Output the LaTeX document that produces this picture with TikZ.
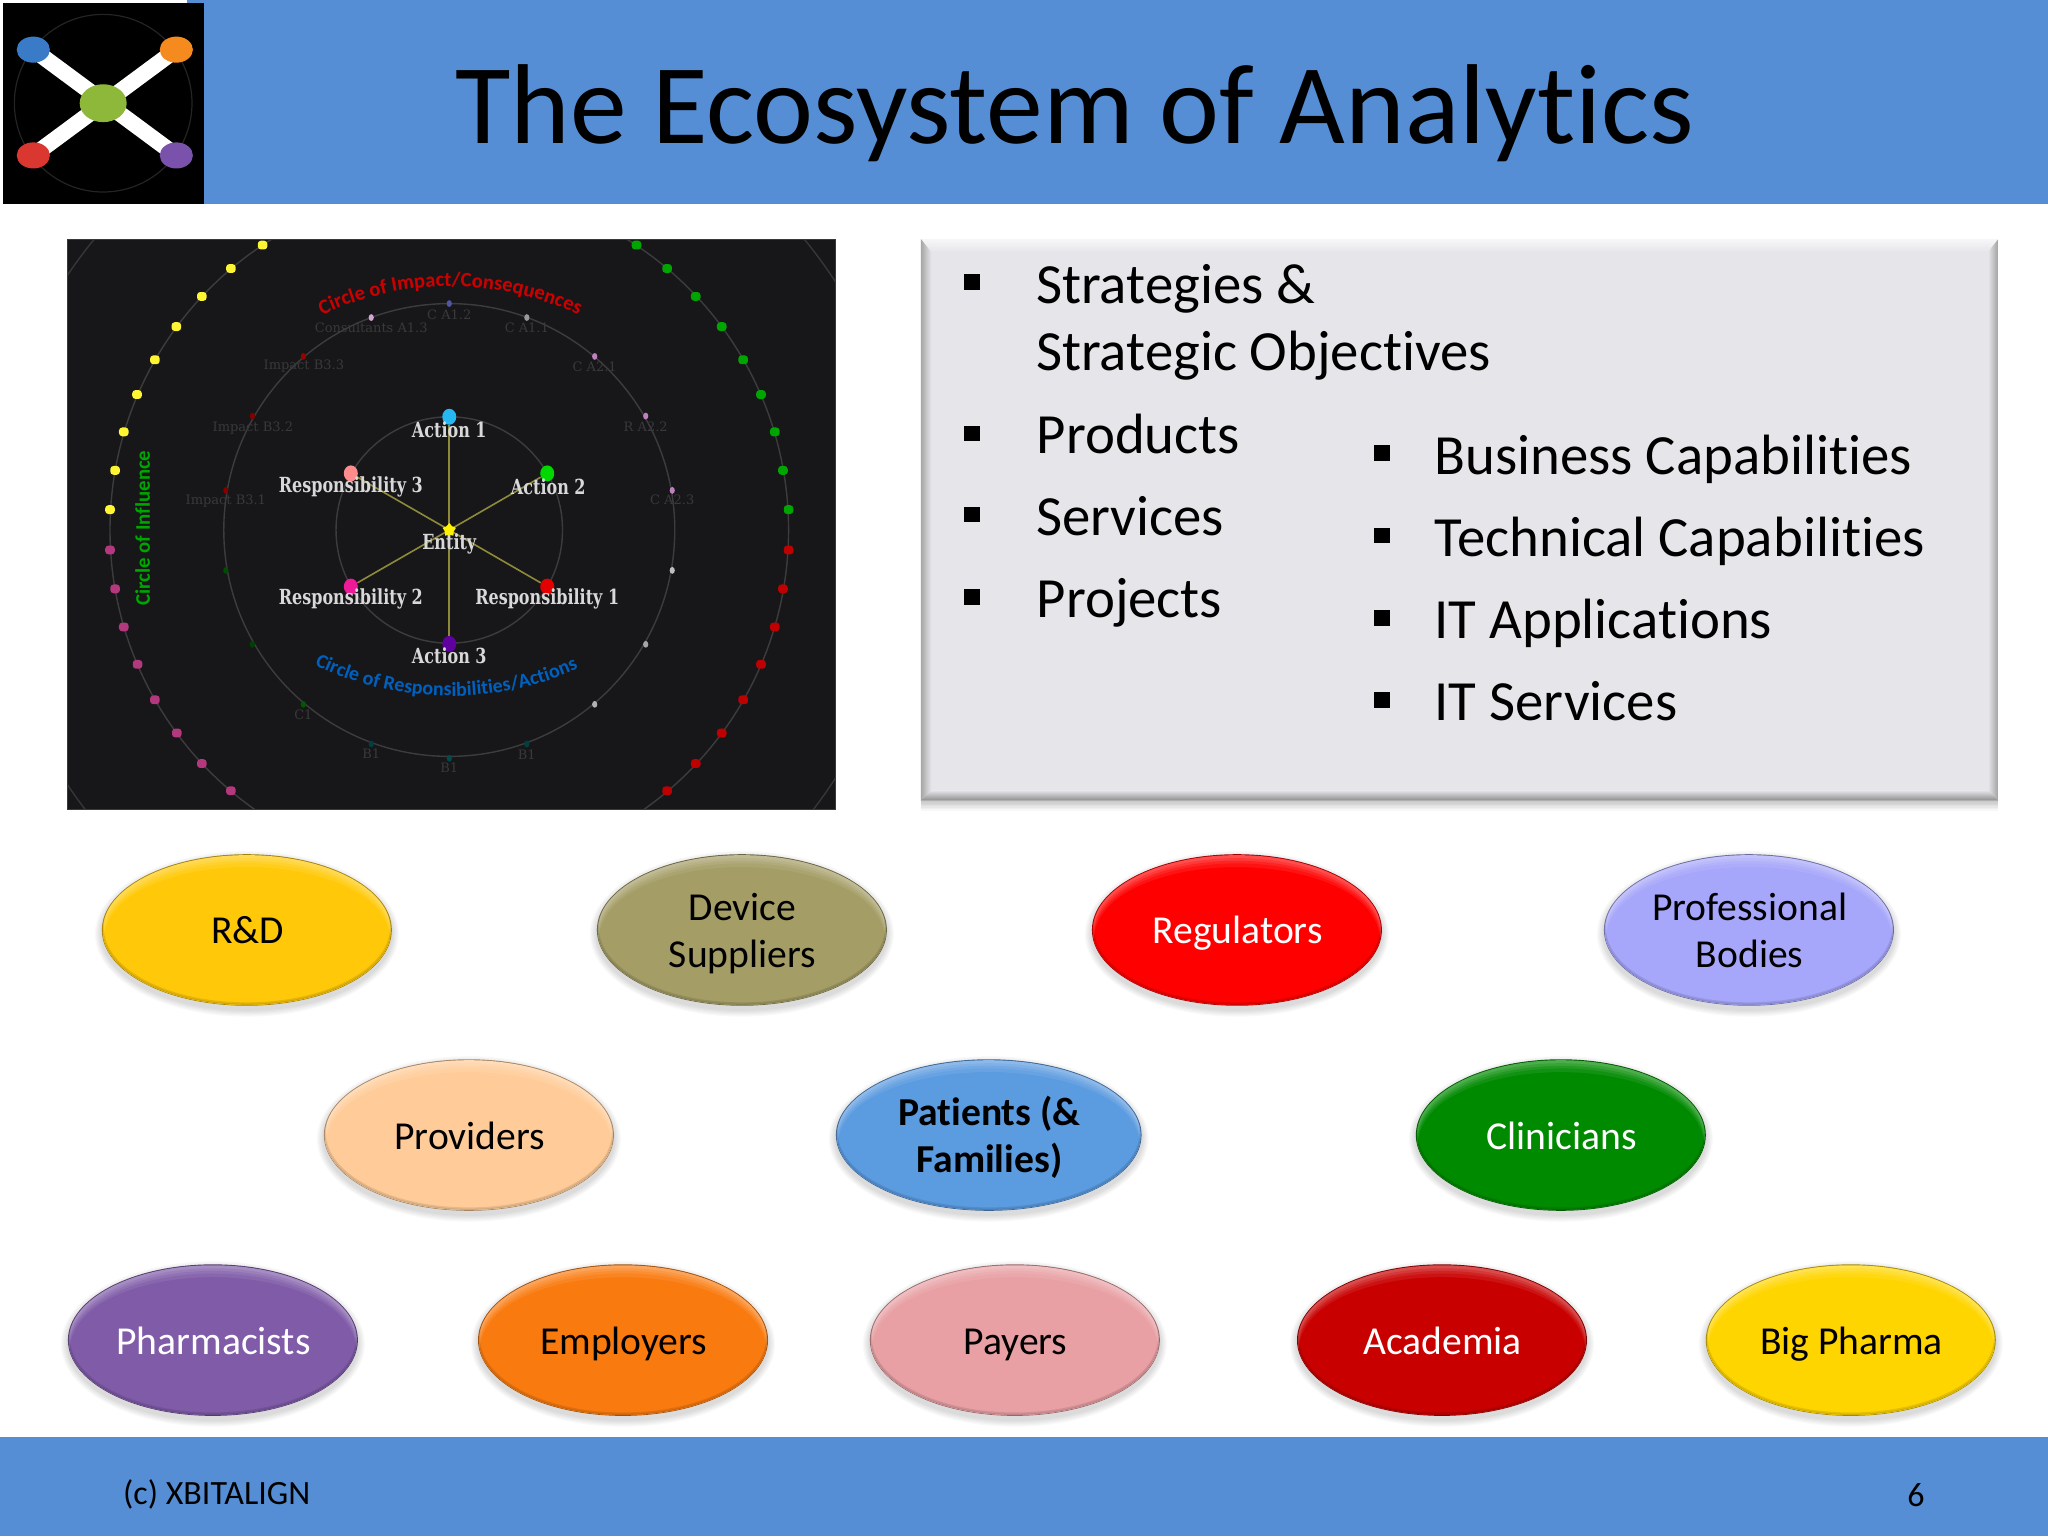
\documentclass[tikz,border=0pt]{standalone}
\usepackage{fontspec}
\setmainfont[Ligatures=NoCommon]{Carlito}
\newfontfamily\imgfont{DejaVu Serif}
\usetikzlibrary{shapes.geometric,decorations.text,calc}
\definecolor{barblue}{HTML}{558ED5}
\definecolor{panel}{HTML}{E6E5EA}
\definecolor{imgbg}{HTML}{17171A}
\definecolor{ringc}{HTML}{3C3C3E}
\definecolor{spokec}{HTML}{8F8A3A}
\definecolor{fainttxt}{HTML}{39393C}
\definecolor{labtxt}{HTML}{D8D8D8}
\tikzset{
 barfill/.style={fill=barblue,draw=none},
 titletext/.style={font=\fontsize{56.8}{66}\selectfont,text=black,anchor=base,inner sep=0},
 bodytext/.style={font=\fontsize{28.4}{33}\selectfont,text=black,anchor=base west,inner sep=0},
 foottext/.style={font=\fontsize{17}{20}\selectfont,text=black,inner sep=0},
 ovaltext/.style={font=\fontsize{19.8}{23.5}\selectfont,align=center,inner sep=0},
 imglabel/.style={font=\imgfont\fontsize{8}{9}\selectfont\bfseries,text=labtxt,inner sep=0},
 faintlabel/.style={font=\imgfont\fontsize{6.5}{8}\selectfont,text=fainttxt,inner sep=0},
 ring/.style={draw=ringc,line width=.7pt},
 spoke/.style={draw=spokec,line width=.8pt},
 squarebullet/.style={fill=black,draw=none,minimum size=7.8pt,inner sep=0,rectangle},
 bigdot/.style={ellipse,minimum width=7pt,minimum height=8pt,inner sep=0,fill=#1},
 smalldot/.style={rectangle,rounded corners=1.6pt,minimum width=4.8pt,minimum height=4.4pt,inner sep=0,fill=#1},
 tinydot/.style={ellipse,minimum width=2.6pt,minimum height=3.4pt,inner sep=0,fill=#1},
}
\newcommand{\tall}[1]{\scalebox{1}[1.3]{#1}}
\newcommand{\ovalshape}[9]{%
 \foreach \i in {1,...,6}{\fill[black,opacity=.022] ($(#2,#3)+(0,3)$) ellipse ({#4+\i*.9} and {#5+\i*.9});}
 \fill[#6!65!black] (#2,#3) ellipse (#4 and #5);
 \begin{scope}
  \clip (#2,#3) ellipse ({#4-.7} and {#5-.7});
  \fill[#6!70!white] (#2,#3) ellipse (#4 and #5);
  \fill[#6!78!white] ($(#2,#3)+(0,2)$) ellipse ({#4-1} and {#5-1});
  \fill[#6!86!white] ($(#2,#3)+(0,3.5)$) ellipse ({#4-1.2} and {#5-1.5});
  \fill[#6!93!white] ($(#2,#3)+(0,5)$) ellipse ({#4-1.4} and {#5-2});
  \fill[#6] ($(#2,#3)+(0,7)$) ellipse ({#4-1.6} and {#5-3});
  \fill[#6] ($(#2,#3)+(0,2)$) ellipse ({#4-4} and {#5-8});
  \fill[#6!60!black,opacity=.25,even odd rule] ($(#2,#3)+({-#4-2},{-#5-2})$) rectangle ($(#2,#3)+({#4+2},{#5+2})$) ($(#2,#3)+(0,-1)$) ellipse ({#4-.8} and {#5-.5});
  \fill[#6!60!black,opacity=.25,even odd rule] ($(#2,#3)+({-#4-2},{-#5-2})$) rectangle ($(#2,#3)+({#4+2},{#5+2})$) ($(#2,#3)+(0,-1.8)$) ellipse ({#4-1.5} and {#5-.8});
 \end{scope}
 \node[ovaltext,text=#7,#9] (#1) at ($(#2,#3)+(.5,3.5)$) {#8};
}
\definecolor{oA}{HTML}{FFC90A}\definecolor{oB}{HTML}{A49D66}\definecolor{oC}{HTML}{FF0000}
\definecolor{oD}{HTML}{A6A6FA}\definecolor{oE}{HTML}{FFCC99}\definecolor{oF}{HTML}{5B9BE0}
\definecolor{oG}{HTML}{008A00}\definecolor{oH}{HTML}{7F5BA8}\definecolor{oI}{HTML}{F97B10}
\definecolor{oJ}{HTML}{E8A0A4}\definecolor{oK}{HTML}{C80000}\definecolor{oL}{HTML}{FFD500}
\definecolor{lgG}{HTML}{8DB839}\definecolor{lgB}{HTML}{3A7BC8}\definecolor{lgO}{HTML}{F58A1F}
\definecolor{lgR}{HTML}{D9372F}\definecolor{lgP}{HTML}{7B52AB}
\begin{document}
\begin{tikzpicture}[x=0.65306pt,y=-0.65306pt]
\useasboundingbox (0,0) rectangle (1568,1176);
\fill[white] (0,0) rectangle (1568,1176);
% bars
\fill[barfill] (0,0) rectangle (1568,156);
\fill[barfill] (0,1100) rectangle (1568,1176);
\node[titletext] (title) at (823,110) {The Ecosystem of Analytics};
\node[foottext,anchor=west] (foot) at (94,1144) {(c) XBITALIGN};
\node[foottext] (pnum) at (1467,1145) {6};
% logo
\fill[white] (0,0) rectangle (143,2);
\fill[white] (0,0) rectangle (2,157);
\fill[black] (2,2) rectangle (156,156);
\draw[white!14!black,line width=.6pt] (79,79) circle (68);
\draw[white,line width=8pt] (25.5,38) -- (135,119);
\draw[white,line width=8pt] (135,38) -- (25.5,119);
\fill[lgG] (79,79) ellipse (18 and 14.5);
\fill[lgB] (25.5,38) ellipse (12.7 and 10);
\fill[lgO] (135,38) ellipse (12.7 and 10);
\fill[lgR] (25.5,119) ellipse (12.7 and 10);
\fill[lgP] (135,119) ellipse (12.7 and 10);
% image
\fill[imgbg] (52,183) rectangle (640,620);
\begin{scope}
\clip (52,183) rectangle (640,620);
\begin{scope}[shift={(45.94,176.09)},x=0.2551pt,y=-0.18868pt]
 \coordinate (ctr) at (763,795);
 \draw[ring,draw=ringc!85!imgbg] (ctr) ellipse (900 and 1215);
 \draw[ring] (ctr) ellipse (665 and 904);
 \draw[ring] (ctr) ellipse (442 and 600);
 \draw[ring] (ctr) ellipse (222 and 300);
 % outer dots
 \foreach \x/\y in {397/40,335/102,278/176,228/256,186/344,151/436,125/535,108/637,98/741}
   \node[smalldot=yellow!80!white] at (\x,\y) {};
 \foreach \x/\y in {98/848,108/951,125/1052,152/1151,186/1245,229/1333,278/1414,335/1486}
   \node[smalldot=magenta!70!black] at (\x,\y) {};
 \foreach \x/\y in {1130/40,1190/102,1246/176,1297/256,1339/344,1374/436,1401/535,1417/637,1428/741}
   \node[smalldot=green!65!black] at (\x,\y) {};
 \foreach \x/\y in {1428/848,1417/951,1401/1052,1374/1151,1339/1245,1297/1333,1246/1414,1190/1486}
   \node[smalldot=red!75!black] at (\x,\y) {};
 % middle dots
 \foreach \x/\y/\c in {763/195/blue!35!gray,610/232/violet!35!white,477/335/red!60!black,377/493/red!50!black,325/690/red!50!black,
   325/902/green!30!black,377/1098/green!25!black,477/1257/green!35!black,610/1362/teal!50!black,763/1400/teal!60!black,915/1362/teal!50!black,
   1048/1257/white!70!black,1148/1098/white!65!black,1200/902/white!75!black,1200/690/violet!50!white,1148/493/violet!50!white,1048/335/violet!50!white,915/232/white!60!black}
   \node[tinydot=\c] at (\x,\y) {};
 % faint labels
 \foreach \x/\y/\t in {763/225/C A1.2,610/258/Consultants A1.3,915/258/C A1.1,478/360/Impact B3.3,378/525/Impact B3.2,325/718/Impact B3.1,1048/362/C A2.1,1148/522/R A2.2,1200/715/C A2.3,477/1285/C1,610/1388/B1,763/1425/B1,915/1390/B1}
   \node[faintlabel] at (\x,\y) {\t};
 % central graph
 \node[bigdot=yellow,star,star points=5,minimum width=5pt,minimum height=5pt] (ent) at (763,795) {};
 \node[bigdot=cyan!85!white] (a1) at (763,495) {};
 \node[bigdot=green!85!black] (a2) at (955,645) {};
 \node[bigdot=violet!75!blue] (a3) at (763,1097) {};
 \node[bigdot=red!90!black] (r1) at (955,945) {};
 \node[bigdot=magenta!90!white] (r2) at (570,945) {};
 \node[bigdot=red!45!white] (r3) at (570,645) {};
 \foreach \n in {a1,a2,a3,r1,r2,r3} \draw[spoke] (ent) -- (\n);
 \node[bigdot=yellow,star,star points=5,minimum width=7pt,minimum height=7pt] at (ent) {};
 \node[imglabel] (la1) at (763,530) {\tall{Action 1}};
 \node[imglabel] (la2) at (957,680) {\tall{Action 2}};
 \node[imglabel] (la3) at (763,1128) {\tall{Action 3}};
 \node[imglabel] (lr1) at (955,977) {\tall{Responsibility 1}};
 \node[imglabel] (lr2) at (570,977) {\tall{Responsibility 2}};
 \node[imglabel] (lr3) at (570,680) {\tall{Responsibility 3}};
 \node[imglabel] (le) at (763,832) {\tall{Entity}};
 % circle titles
 \path[decorate,decoration={text along path,text align={center},text={|\fontsize{10.3}{11}\selectfont\bfseries\color{red!80!black}|Circle of Impact/Consequences}}]
   (495,238) .. controls (665,120) and (865,120) .. (1035,238);
 \path[decorate,decoration={text along path,text align={center},text={|\fontsize{10}{11}\selectfont\bfseries\color{blue!50!cyan!75!black}|Circle of Responsibilities/Actions}}]
   (480,1140) .. controls (655,1265) and (865,1265) .. (1035,1150);
 \node[rotate=90,inner sep=0,text=green!65!black,font=\fontsize{10.4}{11}\selectfont\bfseries] (lci) at (162,790) {Circle of Influence};
\end{scope}
\end{scope}
\draw[gray!45!black,line width=.5pt] (52,183) rectangle (640,620);
% panel
\foreach \i in {1,...,7}{\fill[black,opacity=.03] (705,190) rectangle (1530,613+\i*1.1);}
\fill[panel] (705,183) rectangle (1530,613);
\shade[top color=panel!35!white,bottom color=panel] (705,183) -- (1530,183) -- (1522,193) -- (713,193) -- cycle;
\shade[left color=gray!70!white,right color=panel] (705,183) -- (713,193) -- (713,605) -- (705,613) -- cycle;
\shade[left color=panel,right color=gray!75!white] (1522,193) -- (1530,183) -- (1530,613) -- (1522,605) -- cycle;
\shade[top color=panel,bottom color=gray!90!white] (713,605) -- (1522,605) -- (1530,613) -- (705,613) -- cycle;
\foreach \y/\n in {216/ba,332/bb,394/bc,457/bd}{\node[squarebullet] (\n) at (744,\y) {};}
\foreach \y/\n in {347/be,410/bf,473/bg,536/bh}{\node[squarebullet] (\n) at (1058,\y) {};}
\node[bodytext] (t1) at (793,232) {Strategies \&};
\node[bodytext] (t2) at (793,284) {Strategic Objectives};
\node[bodytext] (t3) at (793.5,347) {Products};
\node[bodytext] (t4) at (793,410) {Services};
\node[bodytext] (t5) at (793.5,473) {Projects};
\node[bodytext] (t6) at (1098,363) {Business Capabilities};
\node[bodytext] (t7) at (1098,426) {Technical Capabilities};
\node[bodytext] (t8) at (1098,489) {IT Applications};
\node[bodytext] (t9) at (1098,552) {IT Services};
% ovals
\ovalshape{n1}{189}{712}{111}{58}{oA}{black}{\strut R\&D}{}
\ovalshape{n2}{568}{712}{111}{58}{oB}{black}{\strut Device\\\strut Suppliers}{}
\ovalshape{n3}{947}{712}{111}{58}{oC}{white}{\strut Regulators}{}
\ovalshape{n4}{1339}{712}{111}{58}{oD}{black}{\strut Professional\\\strut Bodies}{}
\ovalshape{n5}{359}{869}{111}{58}{oE}{black}{\strut Providers}{}
\ovalshape{n6}{757}{869}{117}{58}{oF}{black}{\strut Patients (\&\\\strut Families)}{font=\fontsize{19.8}{23.5}\selectfont\bfseries}
\ovalshape{n7}{1195}{869}{111}{58}{oG}{white}{\strut Clinicians}{}
\ovalshape{n8}{163}{1026}{111}{58}{oH}{white}{\strut Pharmacists}{}
\ovalshape{n9}{477}{1026}{111}{58}{oI}{black}{\strut Employers}{}
\ovalshape{n10}{777}{1026}{111}{58}{oJ}{black}{\strut Payers}{}
\ovalshape{n11}{1104}{1026}{111}{58}{oK}{white}{\strut Academia}{}
\ovalshape{n12}{1417}{1026}{111}{58}{oL}{black}{\strut Big Pharma}{}
\end{tikzpicture}
\end{document}
